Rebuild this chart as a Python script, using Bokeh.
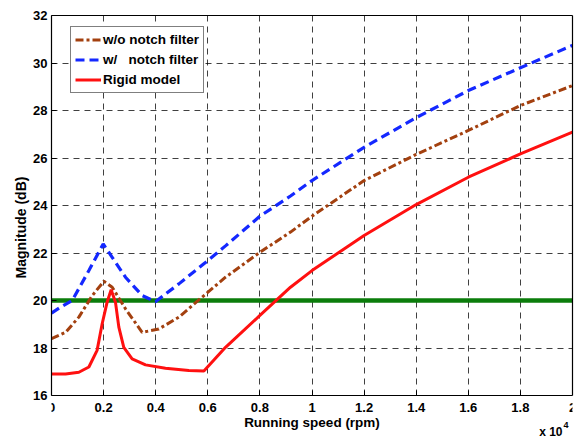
from bokeh.plotting import figure
from bokeh.models import Range1d, FixedTicker, Legend, LegendItem, Label, LinearAxis, BoxAnnotation
from bokeh.embed import file_html
from bokeh.resources import INLINE

# ---- data ----
rpm_wo = [0, 540, 1050, 1560, 2010, 2330, 2840, 3480, 4120, 4890, 5780, 6680,
          8000, 9175, 10000, 12000, 14000, 16000, 18000, 20000]
mag_wo = [18.39, 18.66, 19.3, 20.2, 20.81, 20.56, 19.65, 18.66, 18.8, 19.3, 20.14, 20.98,
          22.03, 22.88, 23.55, 25.05, 26.15, 27.16, 28.21, 29.05]

rpm_w = [0, 345, 795, 1435, 1985, 2330, 2840, 3480, 3990, 4890, 5910, 6680,
         8000, 9175, 10000, 12000, 14000, 16000, 18000, 20000]
mag_w = [19.47, 19.72, 20.0, 21.26, 22.38, 21.82, 20.98, 20.21, 19.95, 20.7, 21.6, 22.3,
         23.55, 24.4, 25.05, 26.45, 27.7, 28.84, 29.8, 30.74]

rpm_rigid = [0, 540, 1050, 1435, 1750, 1945, 2135, 2290, 2455, 2585, 2775, 3095, 3610,
             4375, 5270, 5850, 6680, 8000, 9175, 10000, 12000, 14000, 16000, 18000, 20000]
mag_rigid = [16.91, 16.91, 16.98, 17.2, 17.9, 19.02, 19.93, 20.45, 19.93, 18.88, 18.03, 17.54, 17.29,
             17.15, 17.05, 17.03, 18.03, 19.37, 20.56, 21.26, 22.74, 24.04, 25.19, 26.17, 27.09]

rpm_limit = [0, 20000]
mag_limit = [20, 20]

x_ticks = [0, 2000, 4000, 6000, 8000, 10000, 12000, 14000, 16000, 18000, 20000]
x_tick_labels = ["0", "0.2", "0.4", "0.6", "0.8", "1", "1.2", "1.4", "1.6", "1.8", "2"]
y_ticks = [16, 18, 20, 22, 24, 26, 28, 30, 32]

labels = ["w/o notch filter", "w/\u00a0\u00a0 notch filter", "Rigid model"]
x_mult_text = "x 10"
x_mult_exp = "4"

FONT = "Liberation Sans"

Y_MIN, Y_MAX = 16, 32
X_MIN, X_MAX = 0, 20000
FRAME_H, BELOW_H = 380, 44
y_start = Y_MIN - BELOW_H * (Y_MAX - Y_MIN) / FRAME_H   # extra room under the axis, inside the frame

p = figure(width=577, height=439, output_backend="svg", toolbar_location=None,
           x_range=Range1d(X_MIN, X_MAX), y_range=Range1d(y_start, Y_MAX),
           min_border_left=51, min_border_right=5, min_border_top=15, min_border_bottom=0)
p.background_fill_color = "white"
p.border_fill_color = "white"
p.outline_line_color = None

for ax in (p.xaxis, p.yaxis):
    ax.major_label_text_font = FONT
    ax.major_label_text_font_style = "bold"
    ax.major_label_text_font_size = "13px"
    ax.major_label_text_color = "black"
    ax.axis_label_text_font = FONT
    ax.axis_label_text_font_style = "bold"
    ax.axis_label_text_color = "black"
    ax.major_tick_in = 5
    ax.major_tick_out = 0
    ax.minor_tick_line_color = None
    ax.axis_line_color = "black"
    ax.axis_line_width = 1.2

p.xaxis.fixed_location = Y_MIN
p.xaxis.axis_label_text_font_size = "13.5px"
p.yaxis.axis_label_text_font_size = "14px"
p.xaxis.ticker = FixedTicker(ticks=x_ticks)
p.xaxis.major_label_overrides = {t: s for t, s in zip(x_ticks, x_tick_labels)}
p.yaxis.ticker = FixedTicker(ticks=y_ticks)
p.yaxis.bounds = (Y_MIN, Y_MAX)
p.xaxis.axis_label = "Running speed (rpm)"
p.yaxis.axis_label = "Magnitude (dB)"
p.xaxis.major_label_standoff = 7
p.xaxis.axis_label_standoff = 0
p.yaxis.major_label_standoff = 4
p.yaxis.axis_label_standoff = 1

# box on top and right
top_ax = LinearAxis(ticker=FixedTicker(ticks=[]), axis_line_color="black", axis_line_width=1.2,
                    major_tick_line_color=None, minor_tick_line_color=None)
right_ax = LinearAxis(ticker=FixedTicker(ticks=[]), axis_line_color="black", axis_line_width=1.2,
                      major_tick_line_color=None, minor_tick_line_color=None, bounds=(Y_MIN, Y_MAX))
p.add_layout(top_ax, "above")
p.add_layout(right_ax, "right")

for g in (p.xgrid, p.ygrid):
    g.grid_line_color = "black"
    g.grid_line_dash = "6 5"
    g.grid_line_width = 1
    g.grid_line_alpha = 0.75

# white cover below the axis so that grid lines stop at the frame
p.add_layout(BoxAnnotation(top=Y_MIN, fill_color="white", fill_alpha=1, line_color=None, level="underlay"))

p.line(rpm_limit, mag_limit, line_color="#0b7d0b", line_width=4.5)
r_wo = p.line(rpm_wo, mag_wo, line_color="#a3400f", line_width=3, line_dash="8 3 3 3")
r_w = p.line(rpm_w, mag_w, line_color="#1428ff", line_width=3.2, line_dash="9 5")
r_rigid = p.line(rpm_rigid, mag_rigid, line_color="#ff1010", line_width=3)

legend = Legend(items=[LegendItem(label=labels[0], renderers=[r_wo]),
                       LegendItem(label=labels[1], renderers=[r_w]),
                       LegendItem(label=labels[2], renderers=[r_rigid])],
                location=(19, 302 + BELOW_H))
legend.label_text_font = FONT
legend.label_text_font_style = "bold"
legend.label_text_font_size = "13.5px"
legend.label_text_color = "black"
legend.glyph_width = 26
legend.glyph_height = 17
legend.label_height = 17
legend.label_standoff = 2
legend.spacing = 3
legend.padding = 4
legend.margin = 0
legend.border_line_color = "black"
legend.border_line_width = 1.5
legend.background_fill_color = "white"
legend.background_fill_alpha = 1
p.add_layout(legend)

p.add_layout(Label(x=X_MAX, y=y_start, x_offset=-10, y_offset=8, text=x_mult_text,
                   text_align="right", text_baseline="alphabetic",
                   text_font=FONT, text_font_style="bold", text_font_size="12px", text_color="black"))
p.add_layout(Label(x=X_MAX, y=y_start, x_offset=-9, y_offset=15, text=x_mult_exp,
                   text_align="left", text_baseline="alphabetic",
                   text_font=FONT, text_font_style="bold", text_font_size="9px", text_color="black"))

open("out.html", "w").write(file_html(p, INLINE))
